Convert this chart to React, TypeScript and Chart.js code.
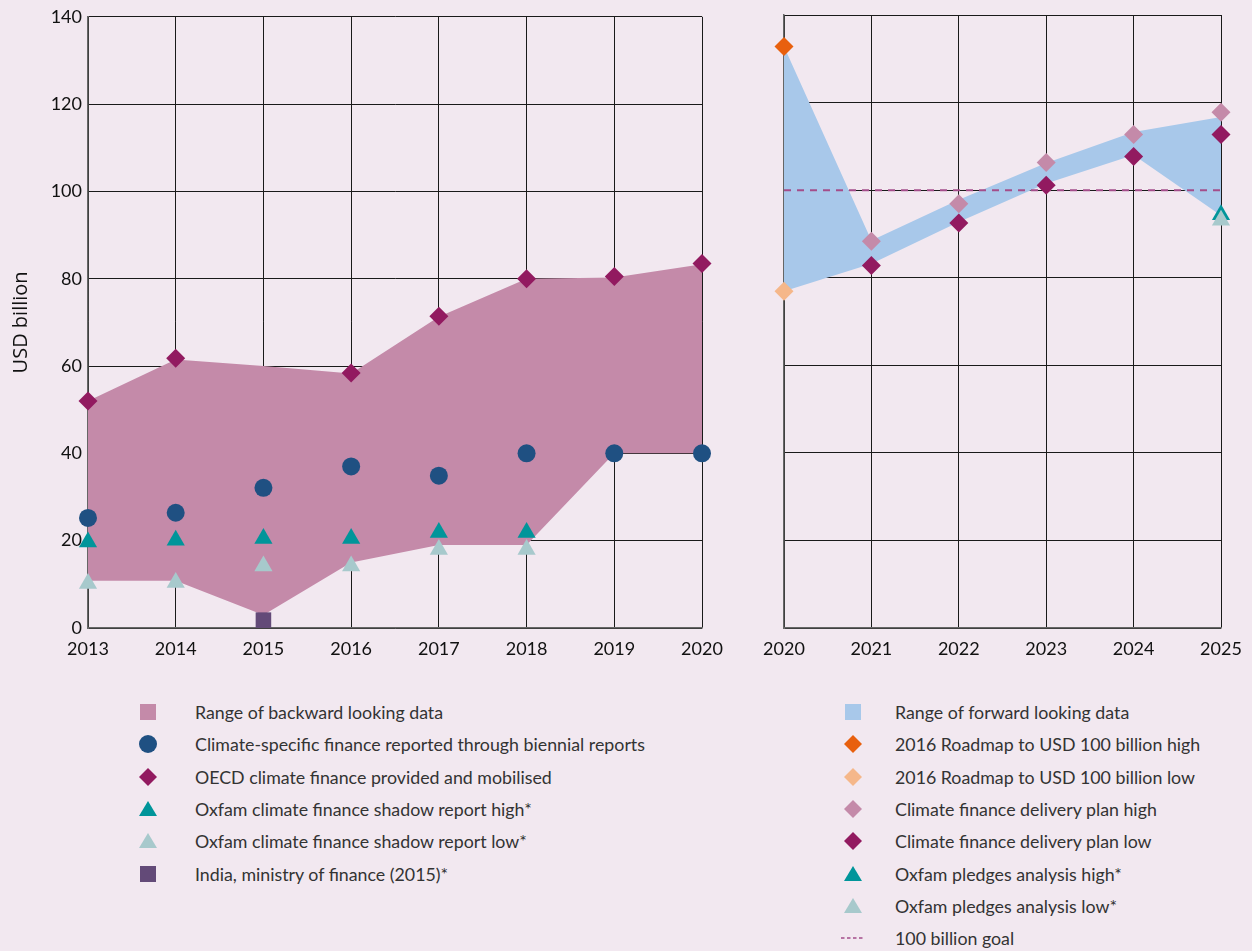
import React, { useEffect, useRef } from "react";
import { Chart, registerables } from "chart.js";
Chart.register(...registerables);

const FONT = "Lato, 'Open Sans', sans-serif";
const BG = "#f2e8f0";

// ---- Backward looking (left chart) ----
const backYears = ["2013", "2014", "2015", "2016", "2017", "2018", "2019", "2020"];
const backRangeLow = [10.8, 10.8, 3, 15, 19, 19, 40, 40];
const backRangeHigh = [52, 61.5, 60, 58.3, 71.3, 80, 80.3, 83.3];
const biennial = [25.2, 26.4, 32.1, 37, 34.9, 40, 40, 40];
const oecd = [52, 61.8, null, 58.4, 71.4, 80, 80.5, 83.5];
const oxfamShadowHigh = [19.7, 20.1, 20.5, 20.5, 21.9, 21.9, null, null];
const oxfamShadowLow = [10.2, 10.4, 14.2, 14.2, 18, 18, null, null];
const indiaMoF = [null, null, 1.8, null, null, null, null, null];

// ---- Forward looking (right chart) ----
const fwdYears = ["2020", "2021", "2022", "2023", "2024", "2025"];
const fwdRangeLow = [76.9, 83.2, 92.7, 101.5, 108, 94.2];
const fwdRangeHigh = [132.8, 88.5, 97.8, 106.2, 113.3, 116.7];
const roadmapHigh = [132.8, null, null, null, null, null];
const roadmapLow = [76.9, null, null, null, null, null];
const deliveryHigh = [null, 88.3, 96.9, 106.3, 112.7, 117.8];
const deliveryLow = [null, 82.8, 92.5, 101.1, 107.7, 112.7];
const pledgesHigh = [null, null, null, null, null, 94.4];
const pledgesLow = [null, null, null, null, null, 93.1];
const goalValues = [100, 100, 100, 100, 100, 100];

const yTicks = [0, 20, 40, 60, 80, 100, 120, 140];

const C = {
  backFill: "#c48aa9",
  fwdFill: "#a8c8ea",
  circle: "#1f5082",
  oecd: "#921a60",
  teal: "#00959a",
  lightTeal: "#a7c9cc",
  india: "#634a78",
  orange: "#e8600e",
  lightOrange: "#f5b78a",
  pink: "#c48aa9",
  goal: "#a44d8a",
};

function pts(label: string, data: (number | null)[], color: string, style: string, radius: number) {
  return {
    label,
    data,
    showLine: false,
    pointStyle: style,
    pointRadius: radius,
    pointHoverRadius: radius,
    pointBackgroundColor: color,
    pointBorderColor: color,
    pointBorderWidth: 0,
    borderColor: color,
    backgroundColor: color,
    clip: false,
    order: 0,
  };
}

function rangeSets(low: number[], high: number[], color: string) {
  return [
    {
      label: "low",
      data: low,
      pointRadius: 0,
      borderWidth: 0,
      borderColor: "rgba(0,0,0,0)",
      fill: false,
      order: 10,
      tension: 0,
    },
    {
      label: "high",
      data: high,
      pointRadius: 0,
      borderWidth: 0,
      borderColor: "rgba(0,0,0,0)",
      backgroundColor: color,
      fill: "-1",
      order: 10,
      tension: 0,
    },
  ];
}

function baseOptions(showY: boolean, yWidth: number, padRight: number) {
  return {
    animation: false,
    responsive: false,
    maintainAspectRatio: false,
    layout: { padding: { top: 15, right: padRight, left: 0, bottom: 0 } },
    plugins: { legend: { display: false }, tooltip: { enabled: false } },
    scales: {
      x: {
        type: "category",
        offset: false,
        grid: { color: "#1a1a1a", lineWidth: 1, drawTicks: false },
        border: { color: "#666", width: 1.5 },
        ticks: {
          color: "#111",
          font: { family: FONT, size: 18 },
          padding: 10,
          maxRotation: 0,
          autoSkip: false,
        },
        afterFit: (s: any) => {
          s.height = 52;
        },
      },
      y: {
        min: 0,
        max: 140,
        afterBuildTicks: (s: any) => {
          s.ticks = yTicks.map((v) => ({ value: v }));
        },
        grid: { color: "#1a1a1a", lineWidth: 1, drawTicks: false },
        border: { color: "#666", width: 1.5 },
        ticks: {
          display: showY,
          color: "#111",
          font: { family: FONT, size: 18 },
          padding: 6,
        },
        title: {
          display: showY,
          text: "USD billion",
          color: "#111",
          font: { family: "'Open Sans', sans-serif", size: 20 },
          padding: { top: 9, bottom: 0 },
        },
        afterFit: (s: any) => {
          s.width = yWidth;
        },
      },
    },
  };
}

function LeftChart() {
  const ref = useRef<HTMLCanvasElement>(null);
  useEffect(() => {
    const chart = new Chart(ref.current as HTMLCanvasElement, {
      type: "line",
      data: {
        labels: backYears,
        datasets: [
          pts("India, ministry of finance (2015)*", indiaMoF, C.india, "rect", 11),
          pts("Oxfam climate finance shadow report low*", oxfamShadowLow, C.lightTeal, "triangle", 10.5),
          pts("Oxfam climate finance shadow report high*", oxfamShadowHigh, C.teal, "triangle", 10.5),
          pts("OECD climate finance provided and mobilised", oecd, C.oecd, "rectRot", 9.5),
          pts("Climate-specific finance reported through biennial reports", biennial, C.circle, "circle", 9),
          ...rangeSets(backRangeLow, backRangeHigh, C.backFill),
        ] as any,
      },
      options: baseOptions(true, 88, 38) as any,
    });
    return () => chart.destroy();
  }, []);
  return (
    <canvas
      ref={ref}
      width={740}
      height={680}
      style={{ position: "absolute", left: 0, top: 0, width: 740, height: 680 }}
    />
  );
}

function RightChart() {
  const ref = useRef<HTMLCanvasElement>(null);
  useEffect(() => {
    const chart = new Chart(ref.current as HTMLCanvasElement, {
      type: "line",
      data: {
        labels: fwdYears,
        datasets: [
          pts("Oxfam pledges analysis low*", pledgesLow, C.lightTeal, "triangle", 10.5),
          pts("Oxfam pledges analysis high*", pledgesHigh, C.teal, "triangle", 10.5),
          pts("Climate finance delivery plan low", deliveryLow, C.oecd, "rectRot", 9.5),
          pts("Climate finance delivery plan high", deliveryHigh, C.pink, "rectRot", 9.5),
          pts("2016 Roadmap to USD 100 billion low", roadmapLow, C.lightOrange, "rectRot", 9.5),
          pts("2016 Roadmap to USD 100 billion high", roadmapHigh, C.orange, "rectRot", 9.5),
          {
            label: "100 billion goal",
            data: goalValues,
            borderColor: C.goal,
            borderWidth: 2,
            borderDash: [7, 6],
            pointRadius: 0,
            fill: false,
            order: 5,
          },
          ...rangeSets(fwdRangeLow, fwdRangeHigh, C.fwdFill),
        ] as any,
      },
      options: baseOptions(false, 44, 31) as any,
    });
    return () => chart.destroy();
  }, []);
  return (
    <canvas
      ref={ref}
      width={512}
      height={680}
      style={{ position: "absolute", left: 740, top: 0, width: 512, height: 680 }}
    />
  );
}

function Marker({ kind, color }: { kind: string; color: string }) {
  let shape: any = null;
  if (kind === "square") shape = <rect x={1} y={1} width={16} height={16} fill={color} />;
  else if (kind === "circle") shape = <circle cx={9} cy={9} r={9} fill={color} />;
  else if (kind === "diamond") shape = <polygon points="9,0 18,9 9,18 0,9" fill={color} />;
  else if (kind === "triangle") shape = <polygon points="9,1 18,16 0,16" fill={color} />;
  else if (kind === "dash")
    shape = (
      <line x1={0} y1={9} x2={24} y2={9} stroke={color} strokeWidth={1.5} strokeDasharray="3.5,2.5" />
    );
  return (
    <svg width={kind === "dash" ? 24 : 18} height={18} style={{ display: "block" }}>
      {shape}
    </svg>
  );
}

const leftLegend = [
  { kind: "square", color: C.backFill, text: "Range of backward looking data" },
  { kind: "circle", color: C.circle, text: "Climate-specific finance reported through biennial reports" },
  { kind: "diamond", color: C.oecd, text: "OECD climate finance provided and mobilised" },
  { kind: "triangle", color: C.teal, text: "Oxfam climate finance shadow report high*" },
  { kind: "triangle", color: C.lightTeal, text: "Oxfam climate finance shadow report low*" },
  { kind: "square", color: C.india, text: "India, ministry of finance (2015)*" },
];

const rightLegend = [
  { kind: "square", color: C.fwdFill, text: "Range of forward looking data" },
  { kind: "diamond", color: C.orange, text: "2016 Roadmap to USD 100 billion high" },
  { kind: "diamond", color: C.lightOrange, text: "2016 Roadmap to USD 100 billion low" },
  { kind: "diamond", color: C.pink, text: "Climate finance delivery plan high" },
  { kind: "diamond", color: C.oecd, text: "Climate finance delivery plan low" },
  { kind: "triangle", color: C.teal, text: "Oxfam pledges analysis high*" },
  { kind: "triangle", color: C.lightTeal, text: "Oxfam pledges analysis low*" },
  { kind: "dash", color: C.goal, text: "100 billion goal" },
];

function Legend({ items, markerX, textX, top }: any) {
  return (
    <>
      {items.map((it: any, i: number) => (
        <div key={i}>
          <div
            style={{
              position: "absolute",
              left: it.kind === "dash" ? markerX - 12 : markerX - 9,
              top: top + i * 32.3 - 9,
            }}
          >
            <Marker kind={it.kind} color={it.color} />
          </div>
          <div
            style={{
              position: "absolute",
              left: textX,
              top: top + i * 32.3 - 12,
              height: 24,
              lineHeight: "24px",
              fontFamily: FONT,
              fontSize: 17.8,
              color: "#333",
              whiteSpace: "nowrap",
            }}
          >
            {it.text}
          </div>
        </div>
      ))}
    </>
  );
}

export default function App() {
  return (
    <div
      style={{
        position: "absolute",
        left: 0,
        top: 0,
        width: 1252,
        height: 951,
        background: BG,
        overflow: "hidden",
      }}
    >
      <LeftChart />
      <RightChart />
      <Legend items={leftLegend} markerX={148} textX={195} top={712} />
      <Legend items={rightLegend} markerX={853} textX={895} top={712} />
    </div>
  );
}
